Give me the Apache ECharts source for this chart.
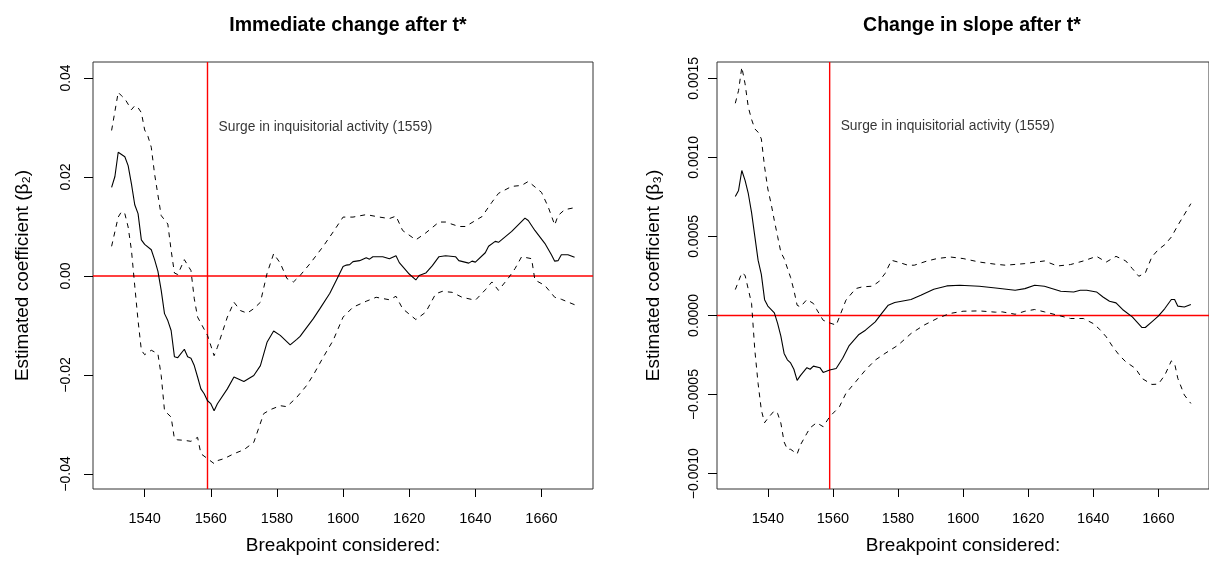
<!DOCTYPE html>
<html>
<head>
<meta charset="utf-8">
<title>Breakpoint estimates</title>
<script src="https://cdn.jsdelivr.net/npm/echarts@6/dist/echarts.min.js"></script>
<style>
  html, body { margin: 0; padding: 0; background: #ffffff; }
  #chart { width: 1209px; height: 569px; }
</style>
</head>
<body>
<div id="chart"></div>
<script>
// Year of the surge in inquisitorial activity
const surgeYear = 1559;
const surgeText = 'Surge in inquisitorial activity (1559)';
// Height (in coefficient units) at which the note is written in each panel
const noteLevel = [0.03, 0.0012];

const xRange = [1524.375, 1675.575];
const leftRange = [-0.043029, 0.043231];
const rightRange = [-0.0010971, 0.0016029];

const xTicks = [1540, 1560, 1580, 1600, 1620, 1640, 1660];
const leftTicks = [-0.04, -0.02, 0, 0.02, 0.04];
const rightTicks = [-0.001, -0.0005, 0, 0.0005, 0.001, 0.0015];

// Immediate change after t*: estimate and confidence bounds, by breakpoint year
const leftMid = [
  [1530, 0.0179], [1531, 0.0201], [1532, 0.0250], [1534, 0.0241], [1535, 0.0223],
  [1536, 0.0186], [1537, 0.0144], [1538, 0.0126], [1539, 0.0073], [1540, 0.0064],
  [1542, 0.0053], [1543, 0.0033], [1544, 0.0010], [1545, -0.0029], [1546, -0.0076],
  [1547, -0.0090], [1548, -0.0110], [1549, -0.0163], [1550, -0.0165], [1552, -0.0148],
  [1553, -0.0163], [1554, -0.0166], [1555, -0.0181], [1556, -0.0204], [1557, -0.0228],
  [1558, -0.0238], [1559, -0.0252], [1560, -0.0258], [1561, -0.0272], [1562, -0.0258],
  [1565, -0.0228], [1567, -0.0204], [1568, -0.0207], [1570, -0.0213], [1571, -0.0209],
  [1573, -0.0201], [1575, -0.0181], [1577, -0.0134], [1579, -0.0111], [1581, -0.0120],
  [1584, -0.0139], [1586, -0.0128], [1587, -0.0122], [1588, -0.0113], [1591, -0.0086],
  [1593, -0.0066], [1596, -0.0035], [1598, -0.0008], [1600, 0.0019], [1601, 0.0022],
  [1602, 0.0023], [1603, 0.0029], [1605, 0.0031], [1606, 0.0034], [1607, 0.0037],
  [1608, 0.0034], [1609, 0.0039], [1612, 0.0039], [1614, 0.0035], [1616, 0.0041],
  [1617, 0.0027], [1620, 0.0004], [1622, -0.0008], [1623, 0.0001], [1625, 0.0006],
  [1627, 0.0021], [1629, 0.0039], [1631, 0.0041], [1634, 0.0039], [1635, 0.0031],
  [1638, 0.0026], [1639, 0.0030], [1640, 0.0028], [1643, 0.0047], [1644, 0.0060],
  [1646, 0.0070], [1647, 0.0068], [1651, 0.0090], [1655, 0.0117], [1656, 0.0112],
  [1658, 0.0092], [1661, 0.0066], [1663, 0.0043], [1664, 0.0030], [1665, 0.0031],
  [1666, 0.0043], [1668, 0.0043], [1670, 0.0038]
];
const leftUpper = [
  [1530, 0.0294], [1532, 0.0371], [1533, 0.0364], [1534, 0.0358], [1536, 0.0336],
  [1537, 0.0344], [1538, 0.0340], [1539, 0.0330], [1540, 0.0295], [1541, 0.0282],
  [1542, 0.0260], [1543, 0.0206], [1545, 0.0122], [1547, 0.0105], [1548, 0.0052],
  [1549, 0.0006], [1550, 0.0003], [1552, 0.0033], [1554, 0.0011], [1555, -0.0046],
  [1556, -0.0083], [1559, -0.0120], [1561, -0.0161], [1562, -0.0144], [1565, -0.0083],
  [1567, -0.0053], [1569, -0.0070], [1571, -0.0075], [1573, -0.0066], [1575, -0.0053],
  [1577, 0.0005], [1579, 0.0045], [1581, 0.0026], [1583, -0.0005], [1585, -0.0012],
  [1587, 0.0001], [1590, 0.0025], [1594, 0.0060], [1597, 0.0089], [1600, 0.0119],
  [1603, 0.0119], [1607, 0.0124], [1611, 0.0119], [1614, 0.0116], [1616, 0.0121],
  [1618, 0.0092], [1622, 0.0073], [1625, 0.0087], [1629, 0.0109], [1631, 0.0109],
  [1635, 0.0100], [1637, 0.0100], [1642, 0.0120], [1645, 0.0149], [1647, 0.0167],
  [1651, 0.0181], [1654, 0.0183], [1656, 0.0191], [1660, 0.0169], [1662, 0.0140],
  [1664, 0.0103], [1665, 0.0122], [1667, 0.0134], [1670, 0.0138]
];
const leftLower = [
  [1530, 0.0060], [1532, 0.0119], [1533, 0.0130], [1534, 0.0126], [1535, 0.0099],
  [1536, 0.0052], [1537, -0.0020], [1538, -0.0090], [1539, -0.0150], [1540, -0.0159],
  [1542, -0.0150], [1544, -0.0157], [1545, -0.0201], [1546, -0.0272], [1548, -0.0285],
  [1549, -0.0329], [1550, -0.0331], [1552, -0.0332], [1554, -0.0334], [1556, -0.0326],
  [1557, -0.0359], [1559, -0.0369], [1561, -0.0379], [1562, -0.0373], [1564, -0.0369],
  [1567, -0.0359], [1570, -0.0351], [1573, -0.0336], [1576, -0.0278], [1578, -0.0270],
  [1581, -0.0262], [1583, -0.0264], [1586, -0.0245], [1589, -0.0221], [1591, -0.0200],
  [1594, -0.0164], [1597, -0.0130], [1600, -0.0083], [1603, -0.0063], [1607, -0.0051],
  [1610, -0.0043], [1614, -0.0048], [1616, -0.0041], [1618, -0.0066], [1622, -0.0088],
  [1625, -0.0073], [1628, -0.0036], [1630, -0.0031], [1633, -0.0033], [1636, -0.0043],
  [1640, -0.0049], [1643, -0.0028], [1645, -0.0012], [1647, -0.0029], [1650, -0.0004],
  [1652, 0.0015], [1654, 0.0039], [1657, 0.0035], [1658, -0.0008], [1661, -0.0019],
  [1664, -0.0043], [1666, -0.0047], [1670, -0.0058]
];

// Change in slope after t*: estimate and confidence bounds, by breakpoint year
const rightMid = [
  [1530, 0.000753], [1531, 0.000791], [1532, 0.000917], [1533, 0.000854], [1534, 0.000770],
  [1535, 0.000650], [1536, 0.000500], [1537, 0.000350], [1538, 0.000260], [1539, 0.000100],
  [1540, 0.000060], [1542, 0.000017], [1543, -0.000050], [1544, -0.000130], [1545, -0.000240],
  [1546, -0.000280], [1547, -0.000300], [1548, -0.000340], [1549, -0.000410], [1550, -0.000380],
  [1552, -0.000330], [1553, -0.000340], [1554, -0.000320], [1556, -0.000330], [1557, -0.000360],
  [1559, -0.000345], [1561, -0.000335], [1563, -0.000270], [1565, -0.000190], [1568, -0.000120],
  [1570, -0.000093], [1573, -0.000040], [1575, 0.000013], [1577, 0.000065], [1579, 0.000082],
  [1584, 0.000101], [1587, 0.000128], [1591, 0.000166], [1595, 0.000187], [1599, 0.000191],
  [1605, 0.000185], [1610, 0.000174], [1616, 0.000160], [1619, 0.000170], [1622, 0.000191],
  [1625, 0.000185], [1630, 0.000153], [1634, 0.000149], [1636, 0.000160], [1638, 0.000160],
  [1641, 0.000149], [1643, 0.000117], [1645, 0.000090], [1647, 0.000080], [1649, 0.000038],
  [1652, -0.000009], [1655, -0.000076], [1656, -0.000076], [1658, -0.000040], [1660, -0.000004],
  [1662, 0.000044], [1664, 0.000101], [1665, 0.000101], [1666, 0.000059], [1668, 0.000054],
  [1670, 0.000069]
];
const rightUpper = [
  [1530, 0.001342], [1531, 0.001422], [1532, 0.001570], [1533, 0.001465], [1534, 0.001317],
  [1535, 0.001240], [1536, 0.001180], [1537, 0.001159], [1538, 0.001117], [1539, 0.000940],
  [1540, 0.000800], [1541, 0.000707], [1542, 0.000600], [1543, 0.000500], [1544, 0.000400],
  [1545, 0.000360], [1547, 0.000240], [1548, 0.000160], [1549, 0.000065], [1550, 0.000054],
  [1552, 0.000101], [1554, 0.000076], [1555, 0.000038], [1557, -0.000030], [1559, -0.000047],
  [1561, -0.000061], [1562, -0.000009], [1564, 0.000097], [1567, 0.000170], [1569, 0.000181],
  [1572, 0.000185], [1574, 0.000212], [1576, 0.000265], [1578, 0.000349], [1580, 0.000338],
  [1583, 0.000318], [1585, 0.000318], [1589, 0.000345], [1592, 0.000360], [1596, 0.000370],
  [1600, 0.000360], [1605, 0.000338], [1610, 0.000324], [1613, 0.000318], [1619, 0.000328],
  [1625, 0.000345], [1629, 0.000313], [1633, 0.000322], [1637, 0.000345], [1641, 0.000374],
  [1644, 0.000338], [1647, 0.000374], [1650, 0.000345], [1652, 0.000297], [1654, 0.000248],
  [1656, 0.000269], [1658, 0.000370], [1660, 0.000417], [1662, 0.000448], [1664, 0.000496],
  [1666, 0.000570], [1670, 0.000707]
];
const rightLower = [
  [1530, 0.000164], [1532, 0.000269], [1533, 0.000254], [1535, 0.000076], [1536, -0.000219],
  [1537, -0.000429], [1538, -0.000598], [1539, -0.000678], [1540, -0.000650], [1542, -0.000602],
  [1543, -0.000619], [1544, -0.000680], [1545, -0.000800], [1546, -0.000846], [1547, -0.000846],
  [1549, -0.000876], [1550, -0.000819], [1552, -0.000745], [1553, -0.000710], [1555, -0.000678],
  [1557, -0.000703], [1559, -0.000640], [1562, -0.000577], [1564, -0.000492], [1567, -0.000419],
  [1570, -0.000345], [1573, -0.000282], [1576, -0.000240], [1580, -0.000188], [1584, -0.000114],
  [1588, -0.000061], [1592, -0.000019], [1596, 0.000013], [1600, 0.000027], [1605, 0.000029],
  [1610, 0.000021], [1612, 0.000023], [1616, 0.000008], [1619, 0.000027], [1622, 0.000038],
  [1625, 0.000023], [1629, 0.000002], [1633, -0.000019], [1637, -0.000019], [1640, -0.000051],
  [1642, -0.000088], [1644, -0.000135], [1646, -0.000198], [1648, -0.000251], [1650, -0.000293],
  [1653, -0.000335], [1655, -0.000398], [1658, -0.000436], [1660, -0.000434], [1662, -0.000377],
  [1664, -0.000287], [1665, -0.000303], [1666, -0.000398], [1668, -0.000503], [1670, -0.000556]
];

const FONT = '"Liberation Sans", Arial, Helvetica, sans-serif';
const MINUS = '\u2212';
const RED = 'rgb(255, 0, 0)';

function fmt(v, digits) {
  const s = Math.abs(v).toFixed(digits);
  return v < 0 ? MINUS + s : s;
}

function xAxisFor(gridIndex) {
  return {
    type: 'value', gridIndex: gridIndex,
    min: xRange[0], max: xRange[1],
    name: 'Breakpoint considered:', nameLocation: 'middle', nameGap: 47,
    nameTextStyle: { fontFamily: FONT, fontSize: 19, color: '#000' },
    axisLine: { show: false, onZero: false },
    axisTick: { show: true, length: 8, customValues: xTicks, lineStyle: { color: '#000', width: 1 } },
    axisLabel: {
      customValues: xTicks, margin: 22, fontFamily: FONT, fontSize: 14.5, color: '#000',
      formatter: function (v) { return String(Math.round(v)); }
    },
    splitLine: { show: false }
  };
}

function yAxisFor(gridIndex, range, ticks, digits, title, gap, labelMargin) {
  return {
    type: 'value', gridIndex: gridIndex, min: range[0], max: range[1],
    name: title, nameLocation: 'middle', nameGap: gap, nameRotate: 90,
    nameTextStyle: { fontFamily: FONT, fontSize: 19, color: '#000' },
    axisLine: { show: false, onZero: false },
    axisTick: { show: true, length: 9, customValues: ticks, lineStyle: { color: '#000', width: 1 } },
    axisLabel: {
      customValues: ticks, rotate: 90, margin: labelMargin,
      fontFamily: FONT, fontSize: 14, color: '#000',
      formatter: function (v) { return fmt(v, digits); }
    },
    splitLine: { show: false }
  };
}

function band(data, idx) {
  return {
    type: 'line', xAxisIndex: idx, yAxisIndex: idx, data: data,
    showSymbol: false, symbol: 'none', silent: true, z: 3,
    lineStyle: { color: '#000', width: 1, type: [5, 5] }
  };
}

function estimate(data, idx) {
  return {
    type: 'line', xAxisIndex: idx, yAxisIndex: idx, data: data,
    showSymbol: false, symbol: 'none', silent: true, z: 3,
    lineStyle: { color: '#000', width: 1.1 }
  };
}

// A red reference line spanning the panel (vertical at the surge year or horizontal at zero)
function redLine(idx, pts) {
  return {
    type: 'line', xAxisIndex: idx, yAxisIndex: idx, data: pts,
    showSymbol: false, symbol: 'none', silent: true, z: 2,
    itemStyle: { color: RED },
    lineStyle: { color: RED, width: 1.4, type: 'solid' }
  };
}

function refLines(idx, yr) {
  return [
    redLine(idx, [[surgeYear, yr[0]], [surgeYear, yr[1]]]),
    redLine(idx, [[xRange[0], 0], [xRange[1], 0]])
  ];
}

function note(idx) {
  return {
    type: 'scatter', xAxisIndex: idx, yAxisIndex: idx,
    data: [[surgeYear, noteLevel[idx]]],
    symbolSize: 0, silent: true, z: 4,
    label: {
      show: true, position: 'right', distance: 11,
      formatter: surgeText,
      fontFamily: FONT, fontSize: 13.8, color: '#000'
    }
  };
}

const chart = echarts.init(document.getElementById('chart'), null, { renderer: 'canvas' });
chart.setOption({
  backgroundColor: '#ffffff',
  animation: false,
  title: [
    { text: 'Immediate change after t*', left: 343, top: 11, textAlign: 'center',
      textStyle: { fontFamily: FONT, fontSize: 19.5, fontWeight: 'bold', color: '#000' } },
    { text: 'Change in slope after t*', left: 967, top: 11, textAlign: 'center',
      textStyle: { fontFamily: FONT, fontSize: 19.5, fontWeight: 'bold', color: '#000' } }
  ],
  grid: [
    { left: 93, top: 62, width: 500, height: 427, show: true, borderColor: '#333', borderWidth: 1, containLabel: false },
    { left: 717, top: 62, width: 500, height: 427, show: true, borderColor: '#333', borderWidth: 1, containLabel: false }
  ],
  xAxis: [xAxisFor(0), xAxisFor(1)],
  yAxis: [
    yAxisFor(0, leftRange, leftTicks, 2, 'Estimated coefficient (\u03B2\u2082)', 61, 20),
    yAxisFor(1, rightRange, rightTicks, 4, 'Estimated coefficient (\u03B2\u2083)', 54, 16)
  ],
  series: [].concat(
    refLines(0, leftRange),
    [estimate(leftMid, 0), band(leftUpper, 0), band(leftLower, 0), note(0)],
    refLines(1, rightRange),
    [estimate(rightMid, 1), band(rightUpper, 1), band(rightLower, 1), note(1)]
  )
});
</script>
</body>
</html>
